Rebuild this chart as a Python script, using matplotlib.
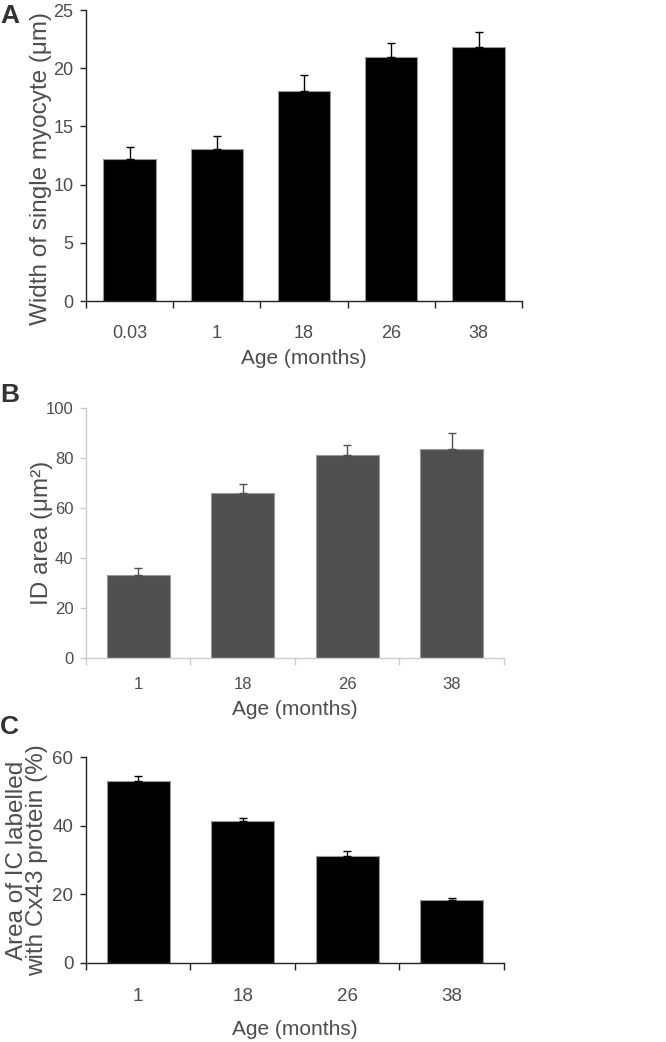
import matplotlib
matplotlib.use('Agg')
import matplotlib.pyplot as plt
from matplotlib import font_manager
import numpy as np

plt.rcParams['font.family'] = ['Liberation Sans', 'DejaVu Sans']

# Panel A: width of single myocyte
ages_a = ['0.03', '1', '18', '26', '38']
width_mean = [12.2, 13.1, 18.0, 21.0, 21.85]
width_err = [1.0, 1.05, 1.4, 1.2, 1.25]

# Panel B: ID area
ages_b = ['1', '18', '26', '38']
id_mean = [33.2, 66.0, 81.0, 83.4]
id_err = [2.7, 3.7, 4.1, 6.4]

# Panel C: Cx43 labelled area
ages_c = ['1', '18', '26', '38']
cx_mean = [53.2, 41.3, 31.3, 18.3]
cx_err = [1.2, 1.0, 1.3, 0.6]

text_col = '#4d4d4d'

# tick labels in the figure look narrow; use a narrow face if one exists
names = {f.name for f in font_manager.fontManager.ttflist}
if 'Liberation Sans Narrow' in names:
    narrow = 'Liberation Sans Narrow'
    scale = 1.1
else:
    narrow = 'Liberation Sans'
    scale = 1.0

fig = plt.figure(figsize=(6.66, 10.42), dpi=100)


def panel(rect, cats, means, errs, color, axcol, ymax, ystep, ylabel, tick_size, pad_x,
          xlab_y, ylab_xy):
    ax = fig.add_axes(rect)
    n = len(cats)
    x = np.arange(n) + 0.5
    ax.bar(x, means, width=0.6, color=color, edgecolor='#999999', linewidth=0.8, zorder=2)
    ax.errorbar(x, means, yerr=[np.zeros(n), errs], fmt='none', ecolor=color,
                elinewidth=1.0, capsize=3, capthick=1.0, zorder=3)
    ax.set_xlim(0, n)
    ax.set_ylim(0, ymax)
    ax.set_yticks(np.arange(0, ymax + 0.1, ystep))
    # tick marks sit between the bars, labels under the bars
    ax.set_xticks(np.arange(0, n + 1))
    ax.set_xticklabels([])
    ax.set_xticks(x, minor=True)
    ax.set_xticklabels(cats, minor=True)
    ax.tick_params(axis='x', which='major', direction='out', length=5, width=1, color=axcol)
    ax.tick_params(axis='x', which='minor', length=0, pad=pad_x, labelcolor=text_col)
    ax.tick_params(axis='y', direction='out', length=4.5, width=1, color=axcol,
                   labelcolor=text_col, pad=4.5)
    for lbl in ax.get_xticklabels(minor=True) + ax.get_yticklabels():
        lbl.set_fontfamily(narrow)
        lbl.set_fontsize(tick_size * scale)
    for s in ['top', 'right']:
        ax.spines[s].set_visible(False)
    for s in ['left', 'bottom']:
        ax.spines[s].set_color(axcol)
        ax.spines[s].set_linewidth(1.0)
    ax.set_ylabel(ylabel, fontsize=17.5, color=text_col, linespacing=0.9)
    ax.yaxis.set_label_coords(*ylab_xy)
    ax.set_xlabel('Age (months)', fontsize=15, color=text_col, va='top')
    ax.xaxis.set_label_coords(0.5, xlab_y)
    return ax


axA = panel([0.129, 0.7111, 0.655, 0.2793], ages_a, width_mean, width_err, 'black', '#222222',
            25, 5, 'Width of single myocyte (\u03bcm)', 13, 17.5, -0.166, (-0.078, 0.455))
axB = panel([0.129, 0.3682, 0.6276, 0.2405], ages_b, id_mean, id_err, '#505050', '#cccccc',
            100, 20, 'ID area (\u03bcm\u00b2)', 12, 13.5, -0.168, (-0.079, 0.5))
axC = panel([0.129, 0.0761, 0.6276, 0.1971], ages_c, cx_mean, cx_err, 'black', '#222222',
            60, 20, 'Area of IC labelled\nwith Cx43 protein (%)', 13.5, 18, -0.277, (-0.09, 0.5))

for letter, yy in [('A', 0.9846), ('B', 0.621), ('C', 0.302)]:
    fig.text(0.0, yy, letter, fontsize=19, fontweight='bold', color='#333333', va='center')

fig.savefig('out.png', dpi=100)
